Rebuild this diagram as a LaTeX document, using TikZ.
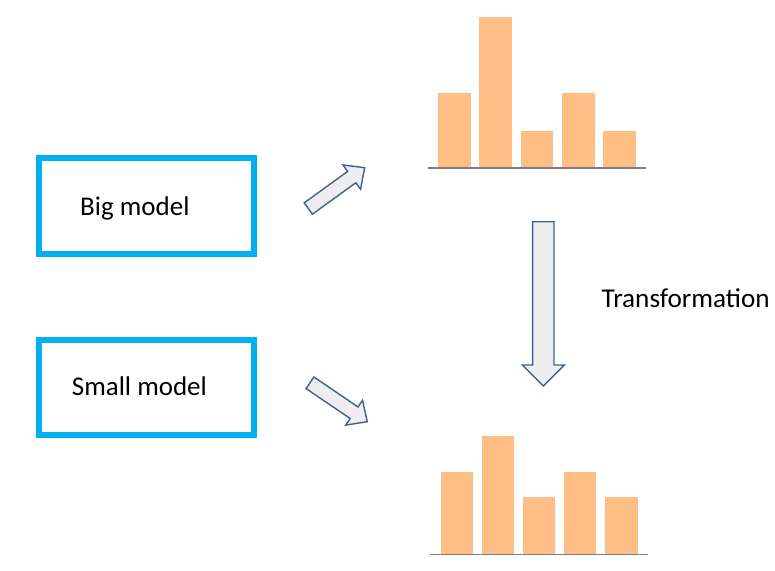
\documentclass[tikz,border=0pt]{standalone}
\usepackage{fontspec}
\setmainfont{Carlito}
\usetikzlibrary{calc}
\definecolor{boxblue}{HTML}{00B0F0}
\definecolor{barorange}{HTML}{FFBE86}
\definecolor{arrowfill}{HTML}{EEEEF1}
\definecolor{arrowline}{HTML}{41608F}
\definecolor{axisgray}{HTML}{7F7F7F}
\tikzset{
  modelbox/.style={draw=boxblue, line width=6pt, minimum width=214.7pt, minimum height=95.7pt, inner sep=0pt},
  bar/.style={fill=barorange},
  axisline/.style={draw=axisgray, line width=1.3pt},
  blockarrow/.style={fill=arrowfill, draw=arrowline, line width=1.4pt, line join=miter},
  txt/.style={font=\fontsize{27}{32}\selectfont, text=black, inner sep=0pt, anchor=base west}
}
% #1 tail, #2 tip, #3 half shaft width, #4 half head width, #5 head length
\newcommand{\blockarr}[5]{%
  \coordinate (#1-n) at ($(#2)!#5!(#1)$);
  \draw[blockarrow] ($(#1)!#3!90:(#2)$) -- ($(#1-n)!#3!90:(#2)$) -- ($(#1-n)!#4!90:(#2)$)
    -- (#2) -- ($(#1-n)!#4!-90:(#2)$) -- ($(#1-n)!#3!-90:(#2)$) -- ($(#1)!#3!-90:(#2)$) -- cycle;}
\begin{document}
\begin{tikzpicture}[x=1pt,y=-1pt]
\useasboundingbox (0,0) rectangle (775,570);
% model boxes
\node[modelbox] (big) at (146.35,205.85) {};
\node[modelbox] (small) at (146.35,387.5) {};
\node[txt] (bigtxt) at (80,215.5) {Big model};
\node[txt] (smalltxt) at (71.7,395) {Small model};
\node[txt, font=\fontsize{27.2}{32}\selectfont] (transtxt) at (601.5,307.3) {Transformation};
% top histogram
\fill[bar] (438.3,168) rectangle (471,92.7);
\fill[bar] (479.3,168) rectangle (512,16.7);
\fill[bar] (520.7,168) rectangle (553.3,130.7);
\fill[bar] (562,168) rectangle (594.7,92.7);
\fill[bar] (603,168) rectangle (635.7,130.7);
\coordinate (topL) at (428.3,168);
\coordinate (topR) at (646,168);
\draw[axisline] (topL) -- (topR);
% bottom histogram
\fill[bar] (440.7,554.3) rectangle (473,472);
\fill[bar] (481.7,554.3) rectangle (514,435.7);
\fill[bar] (522.7,554.3) rectangle (555.3,497.3);
\fill[bar] (564,554.3) rectangle (596.3,472);
\fill[bar] (605,554.3) rectangle (637.7,497.3);
\coordinate (botL) at (430,554.3);
\coordinate (botR) at (648,554.3);
\draw[axisline] (botL) -- (botR);
% block arrows
\coordinate (a1t) at (308.3,208.5);
\coordinate (a1p) at (364.7,167.7);
\coordinate (a2t) at (310,382.8);
\coordinate (a2p) at (367.3,421.7);
\coordinate (a3t) at (543.3,221.7);
\coordinate (a3p) at (543.3,386);
\blockarr{a1t}{a1p}{7pt}{15pt}{16pt}
\blockarr{a2t}{a2p}{7pt}{15pt}{16pt}
\blockarr{a3t}{a3p}{10.7pt}{21pt}{21pt}
\end{tikzpicture}
\end{document}
